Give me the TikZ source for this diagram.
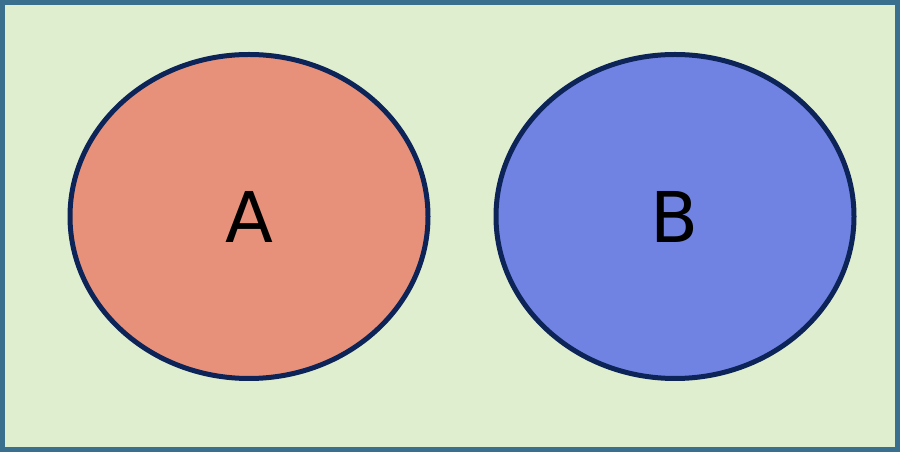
\documentclass[tikz,border=0pt]{standalone}
\usepackage{fontspec}
\setmainfont{DejaVu Sans}
\usetikzlibrary{shapes.geometric, positioning}

\definecolor{univfill}{HTML}{E0EED0}
\definecolor{univline}{HTML}{3A6F8E}
\definecolor{setline}{HTML}{0C2458}
\definecolor{fillA}{HTML}{E7917A}
\definecolor{fillB}{HTML}{7083E3}

\begin{document}
\begin{tikzpicture}[x=1pt, y=1pt, node distance=426pt, on grid,
  set/.style={ellipse, draw=setline, line width=5pt, minimum width=358pt, minimum height=324pt, inner sep=0pt, font=\fontsize{70}{70}\selectfont}]

\useasboundingbox (0,0) rectangle (900,452);
\node[draw=univline, fill=univfill, line width=5pt, minimum width=895pt, minimum height=447pt, inner sep=0pt] (U) at (450,226) {};

\node[set, fill=fillA] (A) at (249,235.5) {\raisebox{-3pt}{A}};
\node[set, fill=fillB, right=of A] (B) {\raisebox{-3pt}{B}};

\end{tikzpicture}
\end{document}
